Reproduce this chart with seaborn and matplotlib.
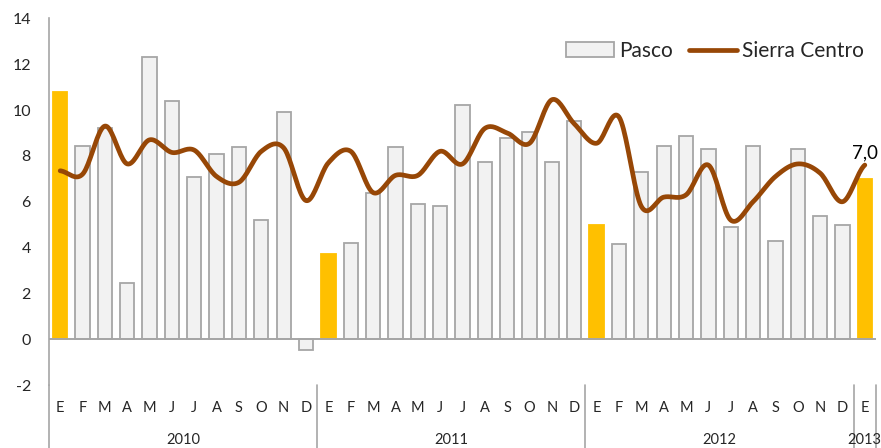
import numpy as np
import matplotlib
matplotlib.use("Agg")
import matplotlib.pyplot as plt
import seaborn as sns
from matplotlib.patches import Patch
from matplotlib.lines import Line2D

# -------------------------------
# datos
# -------------------------------
meses = ["E", "F", "M", "A", "M", "J", "J", "A", "S", "O", "N", "D"]
etiquetas_mes = meses * 3 + ["E"]
anios = ["2010", "2011", "2012", "2013"]
meses_por_anio = [12, 12, 12, 1]

pasco = [10.8, 8.45, 9.2, 2.45, 12.3, 10.4, 7.1, 8.1, 8.4, 5.2, 9.9, -0.45,
         3.7, 4.2, 6.4, 8.4, 5.9, 5.8, 10.2, 7.75, 8.8, 9.05, 7.75, 9.5,
         5.0, 4.15, 7.3, 8.45, 8.85, 8.3, 4.9, 8.45, 4.3, 8.3, 5.4, 5.0,
         7.0]
sierra_centro = [7.35, 7.2, 9.3, 7.65, 8.7, 8.15, 8.25, 7.1, 6.85, 8.2, 8.35, 6.05,
                 7.7, 8.2, 6.4, 7.15, 7.15, 8.2, 7.65, 9.2, 9.0, 8.55, 10.45, 9.4,
                 8.55, 9.7, 5.8, 6.2, 6.3, 7.6, 5.2, 6.0, 7.1, 7.65, 7.25, 6.0,
                 7.6]

# -------------------------------
# estilo
# -------------------------------
sns.set_style("white")
plt.rcParams["font.family"] = ["Lato", "DejaVu Sans"]
plt.rcParams["axes.unicode_minus"] = False

color_barra = "#F2F2F2"
color_borde = "#A6A6A6"
color_enero = "#FFC000"
color_linea = "#974706"

n = len(pasco)
idx = np.arange(n)
es_enero = ["si" if m == 0 else "no" for m in idx % 12]

fig = plt.figure(figsize=(8.81, 4.48), dpi=100)
ax = fig.add_axes([49 / 881, 1 - 385.2 / 448, 827 / 881, 366.9 / 448])

# barras Pasco (enero resaltado en amarillo)
sns.barplot(x=idx, y=pasco, hue=es_enero, palette={"si": color_enero, "no": color_barra},
            saturation=1, dodge=False, width=0.64, legend=False, ax=ax, zorder=2)
for barra in ax.patches:
    i = int(round(barra.get_x() + barra.get_width() / 2))
    barra.set_edgecolor(color_enero if i % 12 == 0 else color_borde)
    barra.set_linewidth(1.3)

# linea suavizada (Catmull-Rom, como Excel)
def suavizar(y, pasos=20):
    p = np.concatenate([[y[0]], y, [y[-1]]])
    xs, ys = [], []
    for i in range(1, len(p) - 2):
        t = np.linspace(0, 1, pasos, endpoint=False)
        p0, p1, p2, p3 = p[i - 1], p[i], p[i + 1], p[i + 2]
        ys.extend(0.5 * ((2 * p1) + (-p0 + p2) * t + (2 * p0 - 5 * p1 + 4 * p2 - p3) * t ** 2
                         + (-p0 + 3 * p1 - 3 * p2 + p3) * t ** 3))
        xs.extend(i - 1 + t)
    xs.append(len(y) - 1)
    ys.append(y[-1])
    return np.array(xs), np.array(ys)

xs, ys = suavizar(np.array(sierra_centro))
sns.lineplot(x=xs, y=ys, color=color_linea, linewidth=3.4, ax=ax, zorder=3,
             solid_capstyle="round")

# etiqueta del ultimo valor
ax.annotate(f"{pasco[-1]:.1f}".replace(".", ","), (n - 1, sierra_centro[-1]),
            xytext=(0, 3), textcoords="offset points", ha="center", va="bottom",
            fontsize=13.5, color="black")

# ejes
ax.set_ylim(-2, 14)
ax.set_xlim(-0.5, n - 0.5)
ax.set_yticks(range(-2, 15, 2))
ax.tick_params(axis="y", length=0, pad=13, labelsize=11.5)
ax.set_xticks([])
ax.set_xlabel("")
for lado in ["top", "right", "bottom"]:
    ax.spines[lado].set_visible(False)
ax.spines["left"].set_color(color_borde)
ax.spines["left"].set_linewidth(1.2)
ax.axhline(0, color=color_borde, linewidth=1.4, zorder=4)

# etiquetas de categorias en dos niveles
trans = ax.get_xaxis_transform()
for i, m in enumerate(etiquetas_mes):
    ax.text(i, -0.062, m, transform=trans, ha="center", va="center", fontsize=10.5)
inicio = 0
separadores = [-0.5]
for anio, k in zip(anios, meses_por_anio):
    ax.text(inicio + (k - 1) / 2, -0.149, anio, transform=trans, ha="center",
            va="center", fontsize=10.5)
    inicio += k
    separadores.append(inicio - 0.5)
for s in separadores:
    ax.plot([s, s], [0, -0.175], transform=trans, color=color_borde, linewidth=1.2,
            clip_on=False)

# leyenda
manejadores = [Patch(facecolor=color_barra, edgecolor=color_borde, linewidth=1.3),
               Line2D([0], [0], color=color_linea, linewidth=3.4)]
ax.legend(manejadores, ["Pasco", "Sierra Centro"], ncol=2, frameon=False,
          loc="center right", bbox_to_anchor=(0.996, 0.911), borderaxespad=0,
          fontsize=15, handlelength=2.3, handletextpad=0.25, columnspacing=0.8)

fig.savefig("out.png", dpi=100)
